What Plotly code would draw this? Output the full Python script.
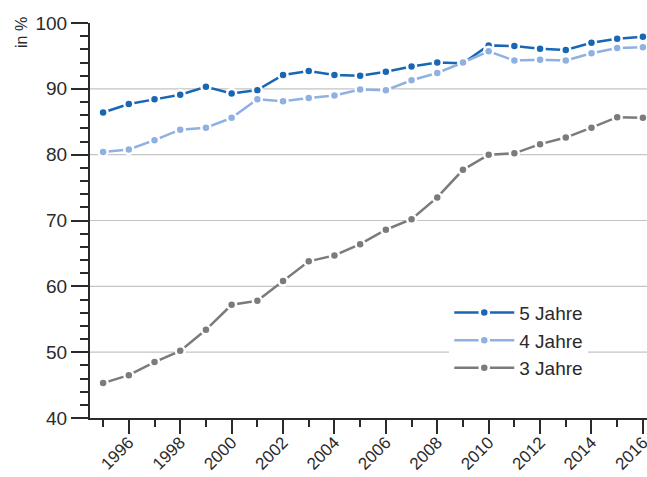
import plotly.graph_objects as go

years = list(range(1995, 2017))
jahre5 = [86.4, 87.7, 88.4, 89.1, 90.3, 89.3, 89.8, 92.1, 92.7, 92.1, 92.0, 92.6,
          93.4, 94.0, 93.9, 96.6, 96.5, 96.1, 95.9, 97.0, 97.6, 97.9]
jahre4 = [80.4, 80.8, 82.2, 83.8, 84.1, 85.6, 88.4, 88.1, 88.6, 89.0, 89.9, 89.8,
          91.3, 92.4, 94.0, 95.7, 94.3, 94.4, 94.3, 95.4, 96.2, 96.3]
jahre3 = [45.3, 46.5, 48.5, 50.2, 53.4, 57.2, 57.8, 60.8, 63.8, 64.7, 66.4, 68.6,
          70.2, 73.5, 77.7, 80.0, 80.2, 81.6, 82.6, 84.1, 85.7, 85.6]
series_names = ["5 Jahre", "4 Jahre", "3 Jahre"]
series_colors = ["#1866b4", "#8fb1e2", "#7b7b7b"]
x_ticks = list(range(1996, 2017, 2))
grid_vals = [50, 60, 70, 80, 90]

FONT = "Liberation Sans, Arial, sans-serif"
fig = go.Figure()
for name, vals, col in zip(series_names, [jahre5, jahre4, jahre3], series_colors):
    fig.add_trace(go.Scatter(
        x=years, y=vals, name=name, mode="lines+markers",
        line=dict(color=col, width=2.5),
        marker=dict(color=col, size=9, line=dict(color="white", width=2.5)),
        cliponaxis=False,
    ))

for g in grid_vals:
    fig.add_shape(type="line", xref="paper", x0=0, x1=1, yref="y", y0=g, y1=g,
                  line=dict(color="#c4c4c4", width=1.2), layer="below")

fig.update_layout(
    width=647, height=477,
    margin=dict(l=90, r=0, t=23, b=59, autoexpand=False),
    paper_bgcolor="white", plot_bgcolor="white",
    font=dict(family=FONT, size=19, color="#2a2a2a"),
    showlegend=True,
    legend=dict(x=0.645, y=0.315, xanchor="left", yanchor="top",
                bgcolor="white", font=dict(size=19, color="#2a2a2a"),
                itemwidth=60, tracegroupgap=0),
    xaxis=dict(range=[1994.49, 2016.16], tickvals=x_ticks, tickangle=-45,
               automargin=False, ticklabeloverflow="allow",
               ticklabelstandoff=-8,
               showgrid=False, zeroline=False, showline=True,
               linecolor="#2a2a2a", linewidth=2,
               ticks="outside", ticklen=14, tickwidth=2, tickcolor="#2a2a2a",
               minor=dict(dtick=1, tick0=1995, ticks="outside", ticklen=7,
                          tickwidth=2, tickcolor="#2a2a2a", showgrid=False),
               tickfont=dict(size=17)),
    yaxis=dict(range=[40, 100], dtick=10, showgrid=False, zeroline=False,
               automargin=False,
               showline=True, linecolor="#2a2a2a", linewidth=2,
               ticks="outside", ticklen=17, tickwidth=2, tickcolor="#2a2a2a",
               minor=dict(dtick=2, ticks="outside", ticklen=8, tickwidth=2,
                          tickcolor="#2a2a2a", showgrid=False),
               tickfont=dict(size=19)),
    annotations=[dict(text="in %", textangle=-90, xref="paper", yref="paper",
                      x=(21 - 90) / 557, y=1 - (33 - 23) / 395,
                      xanchor="center", yanchor="middle", showarrow=False,
                      font=dict(size=16, color="#2a2a2a"))],
)

fig.write_html("out.html", config={"displayModeBar": False},
               post_script="document.body.style.margin='0';document.body.style.overflow='hidden';")
